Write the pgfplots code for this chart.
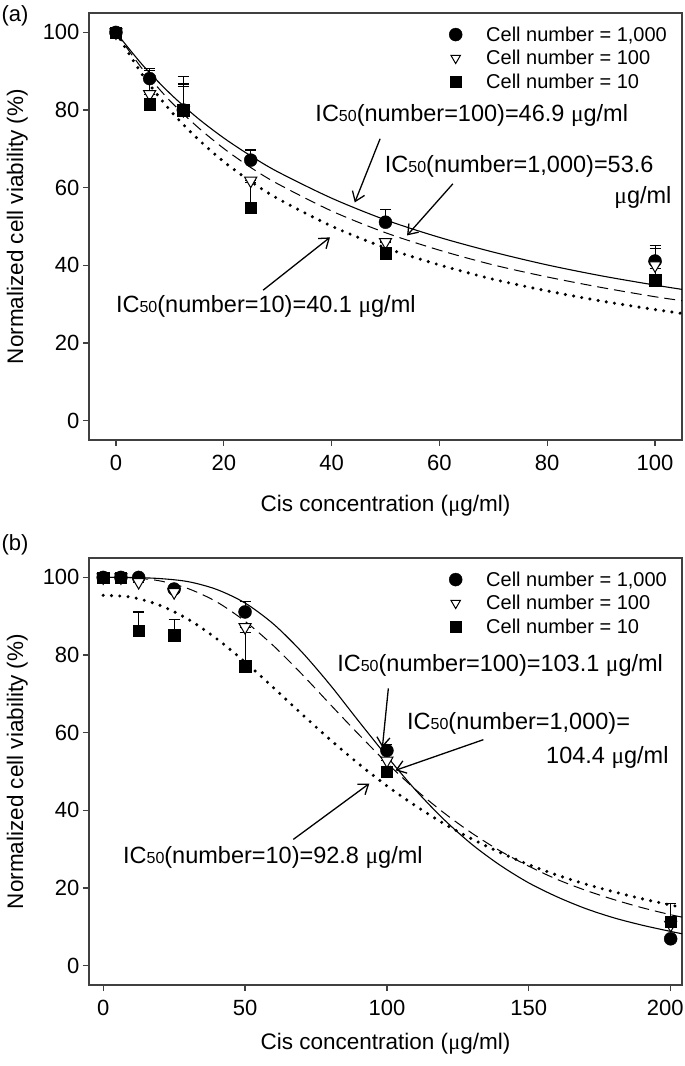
\documentclass[border=0pt]{standalone}
\usepackage{fontspec}
\setmainfont{Liberation Sans}
\newfontfamily\seriffont{Liberation Serif}
\usepackage{pgfplots}
\pgfplotsset{compat=1.18}
\usetikzlibrary{arrows.meta}

\newcommand{\mug}{{\seriffont μ}g/ml}
\newcommand{\ICf}{IC{\fontsize{16}{16}\selectfont 50}}
\newcommand{\annfont}{\fontsize{23.5}{27}\selectfont}

\pgfplotsset{
  myaxis/.style={
    scale only axis, width=593pt, height=427pt,
    axis line style={black!75, line width=1.3pt},
    tick style={black!75, line width=1.3pt},
    tick align=outside, major tick length=6pt,
    xtick pos=left, ytick pos=left,
    ymin=-5, ymax=105, ytick={0,20,...,100},
    tick label style={font=\fontsize{22}{26}\selectfont},
    xticklabel style={yshift=-6pt},
    /pgf/number format/assume math mode=true,
    /pgf/number format/1000 sep={},
    label style={font=\fontsize{22.5}{26}\selectfont},
    xlabel shift=10pt, ylabel shift=8pt,
    ylabel={Normalized cell viability (\%)},
    xlabel={Cis concentration (\mug)},
    legend style={draw=none, fill=none, font=\fontsize{20}{22}\selectfont,
      at={(0.602,0.978)}, anchor=north west, row sep=3.5pt, column sep=22pt,
      cells={anchor=west}},
    error bars/error bar style={line width=1.1pt, black},
    error bars/error mark options={rotate=90, mark size=5.5pt, line width=1.1pt, black},
  },
  solidc/.style={black, line width=1.1pt, smooth, no marks},
  dashc/.style={black, line width=1pt, dash pattern=on 11pt off 6pt, smooth, no marks},
  dotc/.style={black, line width=3.4pt, dash pattern=on 0pt off 8.3pt, line cap=round, smooth, no marks},
  circ/.style={black, only marks, mark=*, mark size=6.5pt, mark options={fill=black, draw=black}},
  tri/.style={black, only marks, mark=triangle*, mark size=7pt, mark options={rotate=180, fill=white, draw=black, line width=1pt}},
  squ/.style={black, only marks, mark=square*, mark size=5.7pt, mark options={fill=black, draw=black}},
}

\begin{document}
\begin{tikzpicture}
\path[use as bounding box] (0,0) rectangle (685pt,1066pt);
\node[font=\fontsize{22}{25}\selectfont] at (15pt,1050pt) {(a)};
\node[font=\fontsize{22}{25}\selectfont] at (15pt,521pt) {(b)};

% ---------------- panel (a)
\begin{axis}[myaxis, at={(89pt,626pt)}, anchor=south west,
  xmin=-5, xmax=105, xtick={0,20,...,100}, xlabel shift=17pt]
\addplot[solidc, forget plot] coordinates {(0,100)(5,91.5)(10,84.3)(15,78.1)(20,72.8)(25,68.2)(30,64.1)(40,57.3)(50,51.7)(60,47.2)(70,43.4)(80,40.1)(90,37.3)(100,34.9)(105,33.8)};
\addplot[dashc, forget plot] coordinates {(0,100)(5,90.4)(10,82.4)(15,75.8)(20,70.1)(25,65.2)(30,61.0)(40,54.0)(50,48.4)(60,43.9)(70,40.1)(80,37.0)(90,34.3)(100,31.9)(105,30.9)};
\addplot[dotc, forget plot] coordinates {(0,100)(5,88.9)(10,80.0)(15,72.8)(20,66.7)(25,61.6)(30,57.2)(40,50.1)(50,44.5)(60,40.1)(70,36.4)(80,33.4)(90,30.8)(100,28.6)(105,27.6)};

\addplot[circ, forget plot, error bars/.cd, y dir=plus, y explicit] coordinates {
 (0,100) +- (0,0)
 (6.25,88.1) +- (0,2.7)
 (12.5,80.0) +- (0,8.7)
 (25,67.1) +- (0,2.6)
 (50,51.1) +- (0,3.2)
 (100,41.1) +- (0,4.0)};
\addplot[tri, forget plot, error bars/.cd, y dir=plus, y explicit] coordinates {
 (0,100) +- (0,0)
 (6.25,84.1) +- (0,6.1)
 (12.5,80.0) +- (0,6.7)
 (25,61.8) +- (0,0)
 (50,46.0) +- (0,0)
 (100,40.0) +- (0,4.3)};
\addplot[squ, forget plot, error bars/.cd, y dir=plus, y explicit] coordinates {
 (0,100) +- (0,0)
 (6.25,81.5) +- (0,2.5)
 (12.5,80.0) +- (0,6.1)
 (25,54.9) +- (0,6.5)
 (50,43.1) +- (0,2.8)
 (100,36.2) +- (0,3.0)};

\addlegendimage{circ}\addlegendentry{Cell number = 1,000}
\addlegendimage{tri, mark size=5.5pt}\addlegendentry{Cell number = 100}
\addlegendimage{squ, mark size=5.3pt}\addlegendentry{Cell number = 10}

\node[font=\annfont] at (axis cs:66.0,78.5) {\ICf(number=100)=46.9 \mug};
\node[font=\annfont] at (axis cs:74.8,65.6) {\ICf(number=1,000)=53.6};
\node[font=\annfont, anchor=east] at (axis cs:103.7,57.4) {\mug};
\node[font=\annfont] at (axis cs:27.8,29.5) {\ICf(number=10)=40.1 \mug};
\draw[-{Straight Barb[length=9pt,width=13pt]}, line width=1.3pt] (axis cs:49.0,72.6) -- (axis cs:44.3,56.2);
\draw[-{Straight Barb[length=9pt,width=13pt]}, line width=1.3pt] (axis cs:62.5,61.0) -- (axis cs:54.0,47.7);
\draw[-{Straight Barb[length=9pt,width=13pt]}, line width=1.3pt] (axis cs:27.3,33.6) -- (axis cs:39.7,47.2);
\end{axis}

% ---------------- panel (b)
\begin{axis}[myaxis, at={(89pt,81pt)}, anchor=south west,
  xmin=-5, xmax=204, xtick={0,50,...,200},
  xticklabels={0,50,100,150,{\makebox[26pt][r]{200}}}]
\addplot[solidc, forget plot] coordinates {(0,100)(10,99.98)(20,99.7)(30,98.9)(40,96.9)(50,93.4)(60,88.0)(70,80.8)(80,72.3)(90,63.0)(100,53.9)(110,45.3)(120,37.7)(130,31.2)(140,25.8)(150,21.3)(160,17.7)(170,14.7)(180,12.3)(190,10.4)(200,8.8)(204,8.2)};
\addplot[dashc, forget plot] coordinates {(0,100)(10,99.9)(20,99.1)(30,97.1)(40,93.7)(50,88.7)(60,82.4)(70,75.1)(80,67.3)(90,59.6)(100,52.2)(110,45.4)(120,39.4)(130,34.1)(140,29.5)(150,25.6)(160,22.2)(170,19.4)(180,17.0)(190,14.9)(200,13.1)(204,12.5)};
\addplot[dotc, forget plot] coordinates {(0,95.4)(10,94.9)(20,92.8)(30,89.2)(40,84.2)(50,78.2)(60,71.6)(70,64.8)(80,58.2)(90,52.0)(100,46.3)(110,41.2)(120,36.6)(130,32.6)(140,29.1)(150,26.0)(160,23.3)(170,21.0)(180,19.0)(190,17.2)(200,15.6)(204,15.0)};

\addplot[circ, forget plot, error bars/.cd, y dir=plus, y explicit] coordinates {
 (0,100) +- (0,0)
 (6.25,100) +- (0,0)
 (12.5,100) +- (0,0)
 (25,97.0) +- (0,0)
 (50,91.1) +- (0,2.8)
 (100,55.4) +- (0,1.6)
 (200,6.9) +- (0,0)};
\addplot[tri, forget plot, error bars/.cd, y dir=plus, y explicit] coordinates {
 (0,100) +- (0,0)
 (6.25,100) +- (0,0)
 (12.5,98.8) +- (0,0)
 (25,96.2) +- (0,0)
 (50,87.2) +- (0,0)
 (100,52.8) +- (0,0)
 (200,10.5) +- (0,0)};
\addplot[squ, forget plot, error bars/.cd, y dir=plus, y explicit] coordinates {
 (0,100) +- (0,0)
 (6.25,100) +- (0,0)
 (12.5,86.2) +- (0,4.9)
 (25,85.1) +- (0,4.0)
 (50,77.1) +- (0,8.8)
 (100,50.0) +- (0,0)
 (200,11.3) +- (0,4.8)};

\addlegendimage{circ}\addlegendentry{Cell number = 1,000}
\addlegendimage{tri, mark size=5.5pt}\addlegendentry{Cell number = 100}
\addlegendimage{squ, mark size=5.3pt}\addlegendentry{Cell number = 10}

\node[font=\annfont] at (axis cs:139.9,77.3) {\ICf(number=100)=103.1 \mug};
\node[font=\annfont] at (axis cs:146.4,62.4) {\ICf(number=1,000)=};
\node[font=\annfont, anchor=east] at (axis cs:200.5,53.6) {104.4 \mug};
\node[font=\annfont] at (axis cs:59.8,27.8) {\ICf(number=10)=92.8 \mug};
\draw[-{Straight Barb[length=9pt,width=13pt]}, line width=1.3pt] (axis cs:100.5,71.4) -- (axis cs:98.4,56.2);
\draw[-{Straight Barb[length=9pt,width=13pt]}, line width=1.3pt] (axis cs:134.0,58.2) -- (axis cs:103.0,50.3);
\draw[-{Straight Barb[length=9pt,width=13pt]}, line width=1.3pt] (axis cs:67.0,32.5) -- (axis cs:93.8,46.9);
\end{axis}
\end{tikzpicture}
\end{document}
